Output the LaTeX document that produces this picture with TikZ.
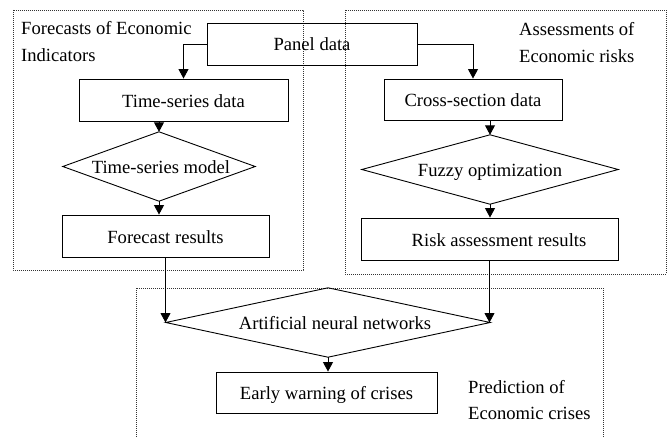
\documentclass[tikz,border=0pt]{standalone}
\usepackage{fontspec}
\setmainfont{Liberation Serif}
\usetikzlibrary{arrows.meta}
\tikzset{
  boxnode/.style={draw=black, line width=0.9pt, rectangle, inner sep=0pt, text height=14pt, text depth=0pt, font=\fontsize{18.6}{26}\selectfont},
  dianode/.style={rectangle, inner sep=0pt, text height=14pt, text depth=0pt, font=\fontsize{18.6}{26}\selectfont},
  diaedge/.style={draw=black, line width=0.9pt},
  grp/.style={draw=black!80, line width=0.7pt, dash pattern=on 0.8pt off 1.2pt},
  grplabel/.style={align=left, inner sep=0pt, anchor=base west, font=\fontsize{18.6}{26}\selectfont},
  arr/.style={draw=black, line width=0.9pt, -{Triangle[length=9.5pt,width=10pt]}},
}
\begin{document}
\begin{tikzpicture}[x=1pt,y=-1pt]
\useasboundingbox (0,0) rectangle (668,436);
% group frames
\draw[grp] (13,10) rectangle (303,270);
\draw[grp] (345,10) rectangle (666,274);
\draw[grp] (136,445) -- (136,288) -- (603,288) -- (603,445);
% group labels (anchor at baseline of last line)
\node[grplabel] (lblF) at (21,61) {Forecasts of Economic\\Indicators};
\node[grplabel] (lblA) at (519,62) {Assessments of\\Economic risks};
\node[grplabel] (lblP) at (468,419) {Prediction of\\Economic crises};
% boxes
\node[boxnode, minimum width=210pt, minimum height=42pt] (panel) at (312,44) {Panel data};
\node[boxnode, minimum width=209pt, minimum height=42pt] (tsd) at (183.5,100) {Time-series data\hspace{38pt}};
\node[boxnode, minimum width=178pt, minimum height=41pt] (csd) at (473,99.5) {Cross-section data};
\node[boxnode, minimum width=207pt, minimum height=42pt] (fr) at (165.5,236) {Forecast results};
\node[boxnode, minimum width=257pt, minimum height=42pt] (rar) at (489.5,239) {\hspace{19pt}Risk assessment results};
\node[boxnode, minimum width=221pt, minimum height=41pt] (ew) at (326.5,392.5) {Early warning of crises};
% diamonds
\node[dianode, minimum width=192pt, minimum height=69pt] (tsm) at (159,166.5) {\hspace{4pt}Time-series model};
\node[dianode, minimum width=256pt, minimum height=69pt] (fo) at (490,169.5) {Fuzzy optimization};
\node[dianode, minimum width=324pt, minimum height=69pt] (ann) at (328,322.5) {\hspace{14pt}Artificial neural networks};
\foreach \d in {tsm,fo,ann}
  \draw[diaedge] (\d.north) -- (\d.east) -- (\d.south) -- (\d.west) -- cycle;
% connectors
\draw[arr] (panel.west) -| (tsd.north);
\draw[arr] (panel.east) -| (csd.north);
\draw[arr] (tsm.north |- tsd.south) -- (tsm.north);
\draw[arr] (tsm.south) -- (tsm.south |- fr.north);
\draw[arr] (fo.north |- csd.south) -- (fo.north);
\draw[arr] (fo.south) -- (fo.south |- rar.north);
\draw[arr] (fr.south) -- (fr.south |- ann.west);
\draw[arr] (rar.south) -- (rar.south |- ann.east);
\draw[arr] (ann.south) -- (ann.south |- ew.north);
\end{tikzpicture}
\end{document}
